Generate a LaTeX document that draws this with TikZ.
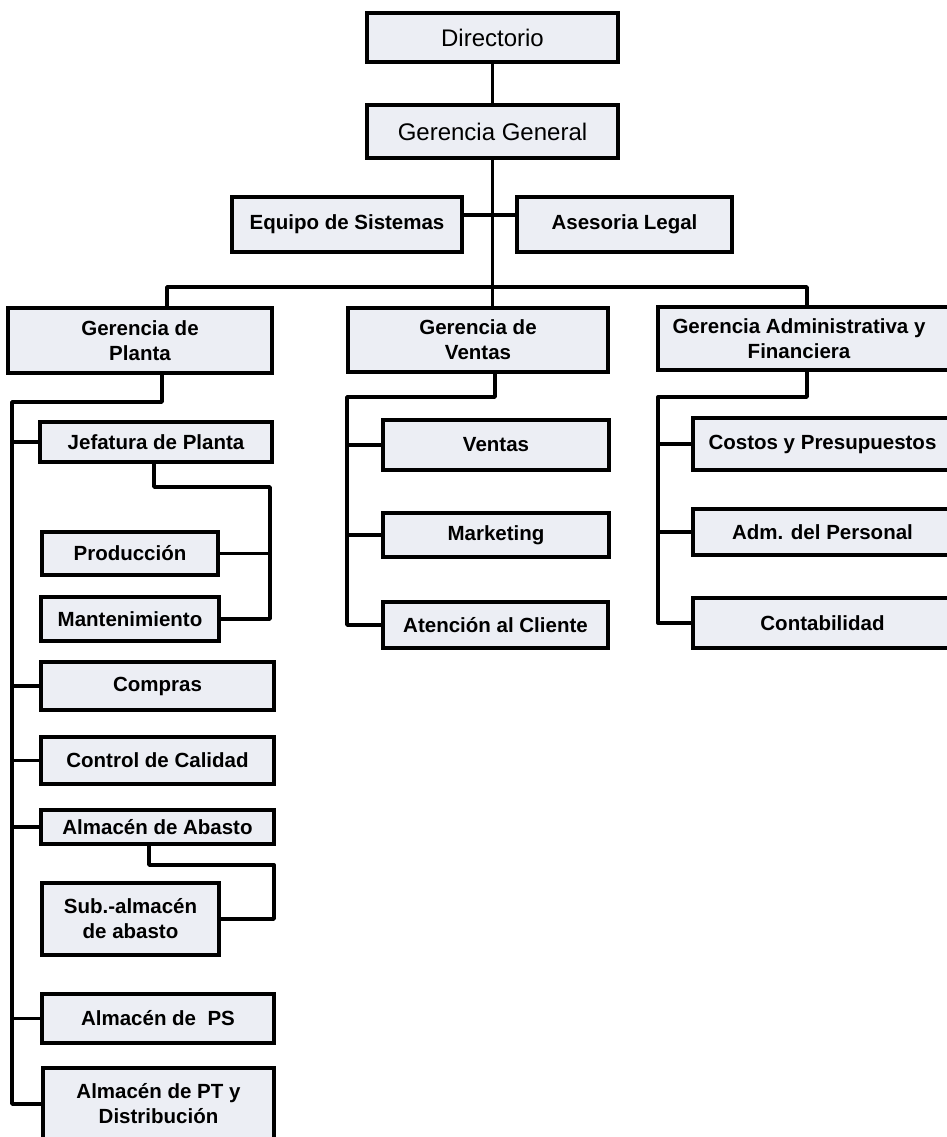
\documentclass[tikz,border=0pt]{standalone}
\usepackage{fontspec}
\setmainfont{Liberation Sans}
\definecolor{boxfill}{RGB}{236,238,244}
\begin{document}
\begin{tikzpicture}[x=1pt,y=-1pt,
  box/.style={draw=black, line width=3.4pt, fill=boxfill, inner sep=0pt,
    align=center, font=\fontsize{20.5}{25}\selectfont\bfseries},
  topbox/.style={box, font=\fontsize{24}{28}\selectfont},
  link/.style={draw=black, line width=3.4pt, line join=round},
  lbl/.style={inner sep=0pt, align=center, font=\fontsize{20.5}{25}\selectfont\bfseries}]
\useasboundingbox (0,0) rectangle (947,1137);
\clip (0,0) rectangle (947,1137);
\fill[white] (0,0) rectangle (947,1137);

% upper levels
\node[topbox, minimum width=251pt, minimum height=49pt] (dir) at (492.5,37.5) {Directorio};
\node[topbox, minimum width=251pt, minimum height=53pt] (gg) at (492.5,131.5) {Gerencia General};
\node[box, minimum width=230pt, minimum height=55pt] (eq) at (347,224.5) {Equipo de Sistemas};
\node[box, minimum width=215pt, minimum height=55pt] (as) at (624.5,224.5) {Asesoria Legal};

% managements
\node[box, minimum width=264pt, minimum height=65pt] (gp) at (140,340.5) {Gerencia de\\Planta};
\node[box, minimum width=260pt, minimum height=64pt] (gv) at (478,340) {Gerencia de\\Ventas};
\node[box, minimum width=302pt, minimum height=63pt] (ga) at (809,338.5) {};
\node[lbl] (gat) at (799,338.5) {Gerencia Administrativa y\\Financiera};

% plant
\node[box, minimum width=232pt, minimum height=40pt] (jp) at (156,442) {Jefatura de Planta};
\node[box, minimum width=176pt, minimum height=43pt] (pr) at (130,553.5) {Producción};
\node[box, minimum width=178pt, minimum height=44pt] (ma) at (130,619) {Mantenimiento};
\node[box, minimum width=233pt, minimum height=48pt] (co) at (157.5,686) {Compras};
\node[box, minimum width=233pt, minimum height=47pt] (cc) at (157.5,760.5) {Control de Calidad};
\node[box, minimum width=233pt, minimum height=34pt] (aa) at (157.5,827) {Almacén de Abasto};
\node[box, minimum width=177pt, minimum height=72pt] (sa) at (130.5,919) {Sub.-almacén\\de abasto};
\node[box, minimum width=232pt, minimum height=49pt] (ps) at (158,1018.5) {Almacén de\ \ PS};
\node[box, minimum width=231pt, minimum height=72pt] (pt) at (158.5,1104) {Almacén de PT y\\Distribución};

% sales
\node[box, minimum width=226pt, minimum height=50pt] (ve) at (496,445) {Ventas};
\node[box, minimum width=226pt, minimum height=44pt] (mk) at (496,535) {Marketing};
\node[box, minimum width=225pt, minimum height=46pt] (at) at (495.5,625) {Atención al Cliente};

% administration and finance
\node[box, minimum width=259pt, minimum height=52pt] (cp) at (822.5,444) {Costos y Presupuestos};
\node[box, minimum width=259pt, minimum height=46pt] (ap) at (822.5,532) {Adm. del Personal};
\node[box, minimum width=259pt, minimum height=50pt] (ct) at (822.5,623) {Contabilidad};

% junction points
\coordinate (busL) at (167,287);
\coordinate (busR) at (807,287);
\coordinate (staff) at (0,215);
\coordinate (gpd) at (162,402);
\coordinate (sp) at (12,402);
\coordinate (jq) at (154,487);
\coordinate (jr) at (270,487);
\coordinate (aq) at (149,865);
\coordinate (ar) at (274,865);
\coordinate (vq) at (495,397);
\coordinate (vr) at (347,397);
\coordinate (fq) at (807,397);
\coordinate (fr) at (658,397);

% top trunk
\draw[link] (dir.south) -- (gg.north);
\draw[link] (gg.south) -- (gg.south |- gv.north);
\draw[link] (eq.east |- staff) -- (as.west |- staff);
\draw[link] (busL |- gp.north) -- (busL) -- (busR) -- (busR |- ga.north);

% plant branch
\draw[link] (gpd |- gp.south) -- (gpd) -- (sp) -- (sp |- pt.west) -- (pt.west);
\foreach \n in {jp,co,cc,aa,ps}
  \draw[link] (sp |- \n.west) -- (\n.west);
\draw[link] (jq |- jp.south) -- (jq) -- (jr) -- (jr |- ma.east) -- (ma.east);
\draw[link] (pr.east) -- (pr.east -| jr);
\draw[link] (aq |- aa.south) -- (aq) -- (ar) -- (ar |- sa.east) -- (sa.east);

% sales branch
\draw[link] (vq |- gv.south) -- (vq) -- (vr) -- (vr |- at.west) -- (at.west);
\foreach \n in {ve,mk}
  \draw[link] (vr |- \n.west) -- (\n.west);

% administration branch
\draw[link] (fq |- ga.south) -- (fq) -- (fr) -- (fr |- ct.west) -- (ct.west);
\foreach \n in {cp,ap}
  \draw[link] (fr |- \n.west) -- (\n.west);
\end{tikzpicture}
\end{document}
